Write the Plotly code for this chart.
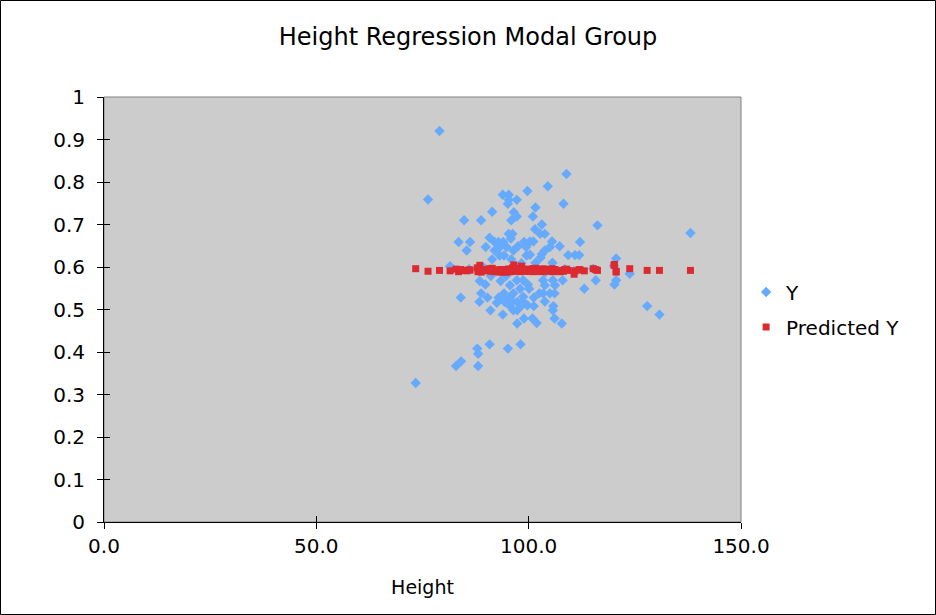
import plotly.graph_objects as go

# Height values (x) for each child in the modal group
heights = [
    76.3, 84.8, 88.8, 91.4, 93.9, 95.3, 95.3, 97.2, 95.1, 99.7,
    96.5, 97.2, 95.9, 83.5, 86.2, 85.4, 90.8, 89.9, 92.0, 92.9,
    94.0, 95.3, 96.2, 95.8, 92.0, 93.2, 94.8, 96.4, 97.5, 98.9,
    99.4, 93.2, 94.2, 99.5, 91.4, 95.9, 98.3, 81.5,
    108.9, 104.5, 108.2, 101.6, 101.0, 103.1, 116.2, 101.5, 102.7, 103.8,
    100.3, 101.1, 105.5, 105.0, 107.3, 112.1, 103.8, 103.1, 100.3, 102.8,
    109.3, 110.9, 111.9, 120.6, 105.6, 101.6,
    88.5, 89.8, 91.1, 93.4, 94.7, 95.6, 97.2, 98.0, 84.0, 88.8,
    90.3, 88.4, 92.9, 92.5, 94.2, 94.3, 95.6, 96.4, 96.1, 95.6,
    97.3, 98.4, 99.7, 91.0, 93.9, 96.4, 97.3, 98.9, 97.3, 90.8,
    95.1, 98.1, 87.9, 88.1, 84.1, 82.9, 88.1,
    98.7, 99.8, 100.1, 103.4, 103.8, 105.7, 106.2, 108.0, 113.1, 115.8,
    120.2, 120.6, 98.7, 101.2, 102.5, 103.4, 105.0, 106.1, 98.7, 101.2,
    103.8, 105.8, 105.7, 100.9, 101.9, 106.1, 107.8,
    138.1, 123.8, 127.9, 130.8, 79.0, 73.4,
    86.0, 92.0, 97.0, 100.5, 104.0, 108.5, 110.7, 115.2, 120.1, 89.5, 94.5, 102.0,
]

# observed Y
y_values = [
    0.759, 0.710, 0.710, 0.730, 0.770, 0.770, 0.758, 0.758, 0.749, 0.779,
    0.729, 0.719, 0.710, 0.659, 0.659, 0.639, 0.669, 0.647, 0.659, 0.659,
    0.659, 0.678, 0.678, 0.667, 0.639, 0.647, 0.647, 0.639, 0.649, 0.659,
    0.647, 0.627, 0.627, 0.627, 0.618, 0.618, 0.609, 0.602,
    0.819, 0.790, 0.749, 0.740, 0.719, 0.700, 0.698, 0.689, 0.678, 0.678,
    0.660, 0.660, 0.660, 0.647, 0.649, 0.659, 0.639, 0.630, 0.629, 0.622,
    0.628, 0.628, 0.628, 0.620, 0.610, 0.610,
    0.567, 0.559, 0.579, 0.567, 0.579, 0.557, 0.569, 0.549, 0.528, 0.538,
    0.528, 0.518, 0.528, 0.516, 0.538, 0.518, 0.528, 0.538, 0.518, 0.508,
    0.518, 0.510, 0.510, 0.498, 0.488, 0.498, 0.498, 0.479, 0.467, 0.418,
    0.408, 0.418, 0.408, 0.396, 0.378, 0.367, 0.367,
    0.569, 0.559, 0.549, 0.569, 0.557, 0.569, 0.557, 0.569, 0.549, 0.569,
    0.559, 0.569, 0.530, 0.528, 0.538, 0.538, 0.538, 0.538, 0.518, 0.508,
    0.519, 0.508, 0.498, 0.479, 0.468, 0.479, 0.467,
    0.680, 0.584, 0.508, 0.488, 0.920, 0.327,
    0.595, 0.590, 0.600, 0.592, 0.588, 0.595, 0.590, 0.596, 0.603, 0.598, 0.592, 0.597,
]

# regression prediction for each child
predicted_y = [
    0.590, 0.592, 0.588, 0.595, 0.591, 0.593, 0.589, 0.596, 0.592, 0.594,
    0.605, 0.591, 0.590, 0.589, 0.593, 0.591, 0.596, 0.594, 0.592, 0.590,
    0.593, 0.595, 0.598, 0.591, 0.589, 0.594, 0.592, 0.590, 0.596, 0.593,
    0.591, 0.588, 0.593, 0.595, 0.597, 0.590, 0.602, 0.591,
    0.595, 0.593, 0.590, 0.592, 0.596, 0.589, 0.592, 0.594, 0.591, 0.595,
    0.592, 0.590, 0.596, 0.594, 0.589, 0.593, 0.591, 0.595, 0.590, 0.593,
    0.592, 0.591, 0.594, 0.588, 0.590, 0.597,
    0.604, 0.592, 0.590, 0.593, 0.588, 0.595, 0.592, 0.589, 0.594, 0.591,
    0.593, 0.596, 0.590, 0.592, 0.594, 0.591, 0.589, 0.597, 0.593, 0.590,
    0.595, 0.592, 0.594, 0.591, 0.588, 0.593, 0.596, 0.590, 0.592, 0.594,
    0.591, 0.593, 0.598, 0.589, 0.592, 0.595, 0.590,
    0.593, 0.590, 0.592, 0.595, 0.591, 0.589, 0.594, 0.592, 0.591, 0.594,
    0.606, 0.590, 0.592, 0.596, 0.591, 0.593, 0.590, 0.592, 0.595, 0.589,
    0.593, 0.591, 0.594, 0.592, 0.590, 0.593, 0.591,
    0.592, 0.596, 0.592, 0.592, 0.592, 0.596,
    0.593, 0.591, 0.595, 0.590, 0.592, 0.594, 0.583, 0.596, 0.604, 0.591, 0.593, 0.590,
]

x_ticks = [0, 50, 100, 150]
x_tick_text = ["0.0", "50.0", "100.0", "150.0"]

WIDTH, HEIGHT = 936, 615
ML, MR, MT, MB = 104, 195, 97, 93
FONT = "DejaVu Sans, Verdana, sans-serif"

fig = go.Figure()
fig.add_trace(
    go.Scatter(
        x=heights,
        y=y_values,
        mode="markers",
        name="Y",
        legendgroup="y",
        marker=dict(symbol="diamond", size=8, color="#66AAFF", line=dict(width=0)),
    )
)
fig.add_trace(
    go.Scatter(
        x=heights,
        y=predicted_y,
        mode="markers",
        name="Predicted Y",
        legendgroup="pred",
        marker=dict(symbol="square", size=7, color="#DC2A30", line=dict(width=0)),
    )
)
# empty trace on overlay axes, only used to draw the inner half of the ticks
fig.add_trace(go.Scatter(x=[], y=[], xaxis="x2", yaxis="y2", showlegend=False, hoverinfo="skip"))

plot_w = WIDTH - ML - MR
plot_h = HEIGHT - MT - MB

fig.update_layout(
    width=WIDTH,
    height=HEIGHT,
    margin=dict(l=ML, r=MR, t=MT, b=MB),
    paper_bgcolor="white",
    plot_bgcolor="#CCCCCC",
    font=dict(family=FONT, size=20, color="black"),
    title=dict(
        text="Height Regression Modal Group",
        x=0.5,
        xref="container",
        xanchor="center",
        y=1 - 37 / HEIGHT,
        yref="container",
        yanchor="middle",
        font=dict(size=24),
    ),
    xaxis=dict(
        range=[0, 150],
        tickvals=x_ticks,
        ticktext=x_tick_text,
        showgrid=False,
        zeroline=False,
        showline=True,
        linecolor="black",
        linewidth=1,
        ticks="outside",
        ticklen=6,
        tickcolor="black",
        ticklabelstandoff=0,
        title=dict(text="Height", standoff=23, font=dict(size=19)),
    ),
    yaxis=dict(
        range=[0, 1],
        dtick=0.1,
        tick0=0,
        showgrid=False,
        zeroline=False,
        showline=True,
        linecolor="black",
        linewidth=1,
        ticks="outside",
        ticklen=6,
        tickcolor="black",
        ticklabelstandoff=8,
    ),
    xaxis2=dict(
        overlaying="x",
        matches="x",
        anchor="y",
        side="bottom",
        tickvals=x_ticks,
        ticks="inside",
        ticklen=6,
        tickcolor="black",
        showticklabels=False,
        showgrid=False,
        zeroline=False,
        showline=False,
    ),
    yaxis2=dict(
        overlaying="y",
        matches="y",
        anchor="x",
        side="left",
        dtick=0.1,
        tick0=0,
        ticks="inside",
        ticklen=6,
        tickcolor="black",
        showticklabels=False,
        showgrid=False,
        zeroline=False,
        showline=False,
    ),
    legend=dict(
        x=1.008,
        y=0.5,
        xanchor="left",
        yanchor="middle",
        bgcolor="rgba(0,0,0,0)",
        font=dict(size=20),
        traceorder="grouped",
        tracegroupgap=6,
    ),
    shapes=[
        # grey frame on the top and right of the plot area
        dict(
            type="rect", xref="x domain", yref="y domain", x0=0, x1=1, y0=0, y1=1,
            line=dict(color="#808080", width=1), layer="below",
        ),
        # black border round the whole chart
        dict(
            type="rect", xref="paper", yref="paper",
            x0=-(ML - 0.5) / plot_w, x1=1 + (MR - 0.5) / plot_w,
            y0=-(MB - 0.5) / plot_h, y1=1 + (MT - 0.5) / plot_h,
            line=dict(color="black", width=1),
        ),
    ],
    showlegend=True,
)

# drop the default page margin so the chart sits at the window's corner
fig.write_html(
    "out.html",
    config={"displayModeBar": False},
    post_script="document.body.style.margin='0px';",
)
